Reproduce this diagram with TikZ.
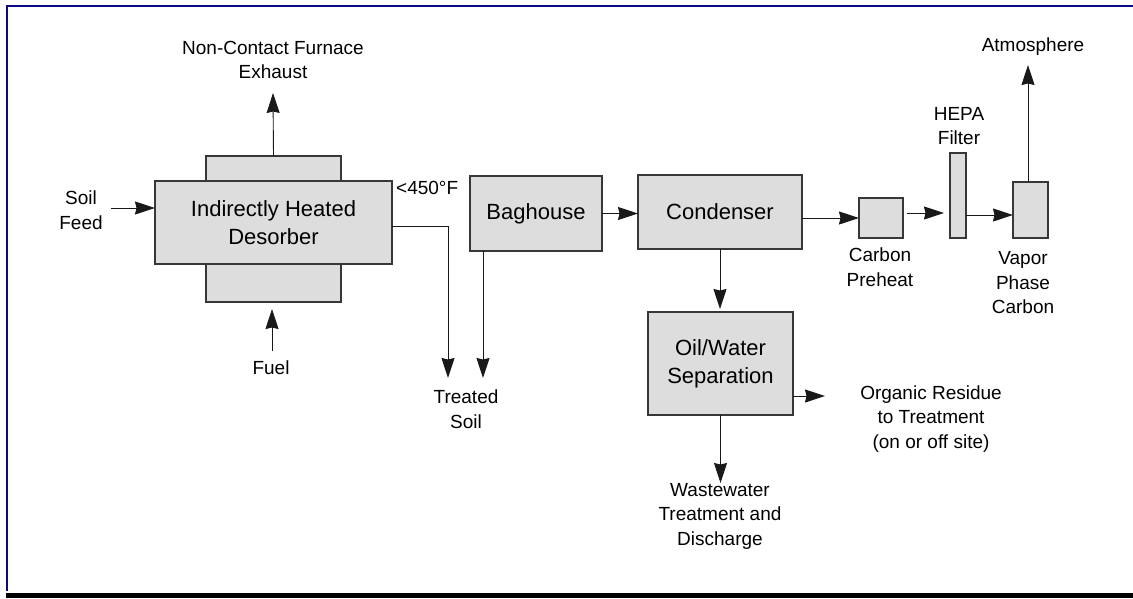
\documentclass[tikz,border=0pt]{standalone}
\usepackage{fontspec}
\setmainfont{Liberation Sans}
\usetikzlibrary{arrows.meta,calc}
\definecolor{framenavy}{RGB}{10,10,130}
\definecolor{boxfill}{RGB}{221,221,221}
\definecolor{boxline}{RGB}{55,55,55}
\definecolor{flowline}{RGB}{25,25,25}
\begin{document}
\begin{tikzpicture}[x=1pt,y=-1pt,
  unit/.style={draw=boxline, fill=boxfill, line width=1.2pt, inner sep=0pt, outer sep=0pt, align=center, font=\fontsize{22}{28}\selectfont},
  lbl/.style={align=center, font=\fontsize{19}{24.5}\selectfont, inner sep=0pt},
  flow/.style={draw=flowline, line width=0.9pt, -{Stealth[length=20pt,width=13pt,inset=1.5pt]}},
  frameline/.style={draw=framenavy, line width=2pt}]
\useasboundingbox (0,0) rectangle (1133,598);
% frame
\coordinate (ftr) at (1133,6);
\coordinate (ftl) at (6.5,6);
\coordinate (fbl) at (6.5,591);
\draw[frameline] (ftr) -- (ftl) -- (fbl);
\fill[black] (6,593) rectangle (1133,598);

% desorber
\node[unit, minimum width=135pt, minimum height=40pt] (destop) at (273.5,176) {};
\node[unit, minimum width=135pt, minimum height=40pt] (desbot) at (273.5,282) {};
\node[unit, minimum width=237pt, minimum height=83pt] (des) at (273.5,222.5) {Indirectly Heated\\Desorber};

% other units
\node[unit, minimum width=132pt, minimum height=75pt] (bag) at (536,213.5) {Baghouse};
\node[unit, minimum width=164pt, minimum height=74pt] (cond) at (720,212) {Condenser};
\node[unit, minimum width=145pt, minimum height=103pt] (ow) at (720.5,363.5) {Oil/Water\\Separation};
\node[unit, minimum width=44pt, minimum height=40pt] (pre) at (881,218) {};
\node[unit, minimum width=16pt, minimum height=85pt] (hepa) at (958,195.5) {};
\node[unit, minimum width=35pt, minimum height=56pt] (vap) at (1030.5,210) {};

% labels
\node[lbl] (exhlbl) at (273,60) {Non-Contact Furnace\\Exhaust};
\node[lbl] (feedlbl) at (81,210) {Soil\\Feed};
\node[lbl, anchor=west] (templbl) at (396,188) {<450°F};
\node[lbl] (fuellbl) at (271,368) {Fuel};
\node[lbl] (tslbl) at (466,409) {Treated\\Soil};
\node[lbl] (prelbl) at (880,267) {Carbon\\Preheat};
\node[lbl] (hepalbl) at (959,126) {HEPA\\Filter};
\node[lbl] (vaplbl) at (1023,283) {Vapor\\Phase\\Carbon};
\node[lbl] (atmlbl) at (1033,47) {Atmosphere};
\node[lbl] (orglbl) at (931,419) {Organic Residue\\to Treatment\\(on or off site)};
\node[lbl] (wwlbl) at (720,516) {Wastewater\\Treatment and\\Discharge};

% connector ends
\coordinate (feedin) at (111,208);
\coordinate (exhtip) at (273,93);
\coordinate (fuelin) at (272,351);
\coordinate (fueltip) at (272,309);
\coordinate (ts1) at (448,378);
\coordinate (ts2) at (483,378);
\coordinate (atmtip) at (1028,65);
\coordinate (orgtip) at (825,396);
\coordinate (wwtip) at (720.5,483);

% connectors
\draw[flow] (feedin) -- (des.west |- feedin);
\draw[flow] (destop.north) -- (exhtip);
\draw[flow] (fuelin) -- (fueltip);
\draw[flow] ([yshift=-3.5pt]des.east) -| (ts1);
\draw[flow] (bag.south -| ts2) -- (ts2);
\draw[flow] (bag.east) -- (cond.west |- bag.east);
\draw[flow] (cond.east |- pre.west) -- (pre.west);
\draw[flow] ($(pre.east)+(4,-5)$) -- ($(hepa.west |- pre.east)+(-6,-5)$);
\draw[flow] ($(hepa.east)+(0,19.5)$) -- ($(vap.west)+(0,5)$);
\draw[flow] ($(vap.north)+(-2.5,0)$) -- (atmtip);
\draw[flow] (cond.south) -- ($(ow.north)+(-0.5,-3)$);
\draw[flow] ($(ow.east)+(0,32.5)$) -- (orgtip);
\draw[flow] (ow.south) -- (wwtip);
\end{tikzpicture}
\end{document}
